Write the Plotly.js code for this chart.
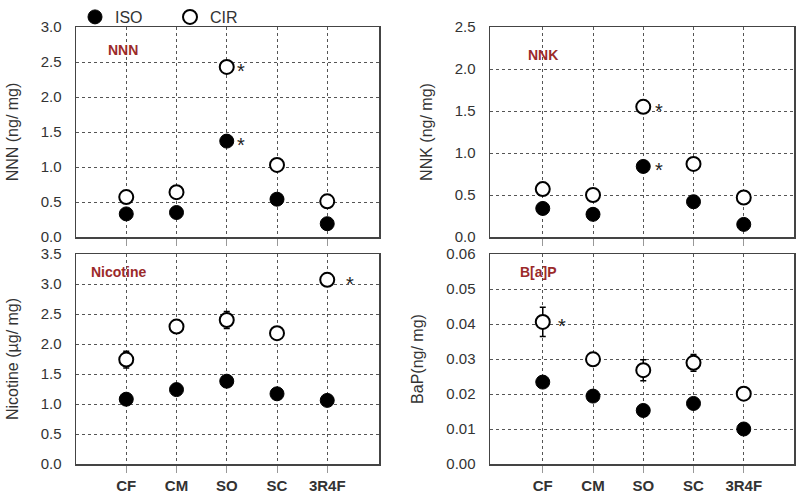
<!DOCTYPE html>
<html>
<head>
<meta charset="utf-8">
<script src="https://cdn.plot.ly/plotly-3.0.1.min.js"></script>
<style>html,body{margin:0;padding:0;background:#fff;}#chart{width:800px;height:500px;}</style>
</head>
<body>
<div id="chart"></div>
<script>
// ---- data ----
var categories = ["CF", "CM", "SO", "SC", "3R4F"];

var nnnIso = [0.33, 0.35, 1.37, 0.54, 0.19];
var nnnCir = [0.57, 0.64, 2.43, 1.03, 0.51];
var nnnStarIso = [0, 0, 1, 0, 0];
var nnnStarCir = [0, 0, 1, 0, 0];

var nnkIso = [0.34, 0.27, 0.84, 0.42, 0.15];
var nnkCir = [0.57, 0.50, 1.55, 0.87, 0.47];
var nnkStarIso = [0, 0, 1, 0, 0];
var nnkStarCir = [0, 0, 1, 0, 0];

var nicIso = [1.08, 1.24, 1.38, 1.17, 1.06];
var nicCir = [1.74, 2.29, 2.40, 2.18, 3.07];
var nicCirErr = [0.14, 0.04, 0.14, 0.05, 0.10];
var nicStarIso = [0, 0, 0, 0, 0];
var nicStarCir = [0, 0, 0, 0, 1];

var bapIso = [0.0234, 0.0194, 0.0153, 0.0173, 0.0100];
var bapCir = [0.0406, 0.0299, 0.0268, 0.0289, 0.0201];
var bapCirErr = [0.0042, 0.0008, 0.0030, 0.0024, 0.0005];
var bapStarIso = [0, 0, 0, 0, 0];
var bapStarCir = [1, 0, 0, 0, 0];

var panelNames = ["NNN", "NNK", "Nicotine", "B[a]P"];
var yTitles = ["NNN (ng/ mg)", "NNK (ng/ mg)", "Nicotine (\u00b5g/ mg)", "BaP(ng/ mg)"];
var seriesNames = ["ISO", "CIR"];

// ---- build ----
var FONT = "Liberation Sans, Arial, sans-serif";
var isoMarker = {symbol: "circle", size: 14, color: "#000", line: {color: "#000", width: 1}};
var cirMarker = {symbol: "circle", size: 14, color: "#fff", line: {color: "#000", width: 2}};

var panels = [
  {iso: nnnIso, cir: nnnCir, err: null, sIso: nnnStarIso, sCir: nnnStarCir, ax: ""},
  {iso: nnkIso, cir: nnkCir, err: null, sIso: nnkStarIso, sCir: nnkStarCir, ax: "2"},
  {iso: nicIso, cir: nicCir, err: nicCirErr, sIso: nicStarIso, sCir: nicStarCir, ax: "3"},
  {iso: bapIso, cir: bapCir, err: bapCirErr, sIso: bapStarIso, sCir: bapStarCir, ax: "4"}
];
var starShift = [14, 16, 23, 19];

var traces = [];
var annotations = [];
panels.forEach(function (p, i) {
  traces.push({
    type: "scatter", mode: "markers", x: categories, y: p.iso,
    name: seriesNames[0], legendgroup: "iso", showlegend: i === 0,
    marker: isoMarker, xaxis: "x" + p.ax, yaxis: "y" + p.ax, cliponaxis: false
  });
  var cirTrace = {
    type: "scatter", mode: "markers", x: categories, y: p.cir,
    name: seriesNames[1], legendgroup: "cir", showlegend: i === 0,
    marker: cirMarker, xaxis: "x" + p.ax, yaxis: "y" + p.ax, cliponaxis: false
  };
  if (p.err) {
    cirTrace.error_y = {type: "data", array: p.err, visible: true, color: "#000", thickness: 1.5, width: 3};
  }
  traces.push(cirTrace);
  var xref = "x" + p.ax, yref = "y" + p.ax;
  categories.forEach(function (c, k) {
    [[p.sIso, p.iso], [p.sCir, p.cir]].forEach(function (pair) {
      if (pair[0][k]) {
        annotations.push({
          xref: xref, yref: yref, x: c, y: pair[1][k], text: "*",
          showarrow: false, xshift: starShift[i], yshift: -4,
          font: {family: FONT, size: 20, color: "#222"}
        });
      }
    });
  });
});

var labelPos = [[123, 50], [543, 55], [118, 272], [538, 272]];
panelNames.forEach(function (n, i) {
  annotations.push({
    xref: "paper", yref: "paper", x: labelPos[i][0] / 800, y: 1 - labelPos[i][1] / 500,
    text: "<b>" + n + "</b>", showarrow: false, xanchor: "center", yanchor: "middle",
    font: {family: FONT, size: 14, color: "#9b2a2a"}
  });
});

function xAxis(domain, anchor, showLabels, range) {
  return {
    type: "category", domain: domain, anchor: anchor, range: range,
    showline: true, mirror: true, linecolor: "#444", linewidth: 1.5,
    showgrid: true, gridcolor: "#555", griddash: "dot", gridwidth: 1,
    ticks: "outside", ticklen: 7, tickcolor: "#999", tickwidth: 1,
    showticklabels: showLabels, zeroline: false,
    tickfont: {family: FONT, size: 15, color: "#333", weight: "bold"}
  };
}
function yAxis(domain, anchor, range, dtick, fmt, title) {
  return {
    domain: domain, anchor: anchor, range: range, dtick: dtick, tick0: 0, tickformat: fmt,
    showline: true, mirror: true, linecolor: "#444", linewidth: 1.5,
    showgrid: true, gridcolor: "#555", griddash: "dot", gridwidth: 1,
    ticks: "", ticklabelstandoff: 10, zeroline: false,
    tickfont: {family: FONT, size: 15, color: "#333"},
    title: {text: title, font: {family: FONT, size: 16, color: "#333"}, standoff: 18}
  };
}

var xL = [76 / 800, 379 / 800], xR = [490 / 800, 794 / 800];
var yT = [263 / 500, 473 / 500], yB = [36 / 500, 246 / 500];
var rL = [-1.0, 5.03], rR = [-1.05, 5.0];

var layout = {
  width: 800, height: 500,
  margin: {l: 0, r: 0, t: 0, b: 0},
  paper_bgcolor: "#fff", plot_bgcolor: "#fff",
  font: {family: FONT, color: "#333"},
  showlegend: true,
  legend: {
    orientation: "h", x: 75 / 800, y: 1, xanchor: "left", yanchor: "top",
    font: {family: FONT, size: 16, color: "#333"}, entrywidth: 50, entrywidthmode: "pixels",
    bgcolor: "rgba(0,0,0,0)"
  },
  xaxis: xAxis(xL, "y", false, rL),
  yaxis: yAxis(yT, "x", [0, 3.0], 0.5, ".1f", yTitles[0]),
  xaxis2: xAxis(xR, "y2", false, rR),
  yaxis2: yAxis(yT, "x2", [0, 2.5], 0.5, ".1f", yTitles[1]),
  xaxis3: xAxis(xL, "y3", true, rL),
  yaxis3: yAxis(yB, "x3", [0, 3.5], 0.5, ".1f", yTitles[2]),
  xaxis4: xAxis(xR, "y4", true, rR),
  yaxis4: yAxis(yB, "x4", [0, 0.06], 0.01, ".2f", yTitles[3]),
  annotations: annotations
};

Plotly.newPlot("chart", traces, layout, {staticPlot: true, displayModeBar: false});
</script>
</body>
</html>
